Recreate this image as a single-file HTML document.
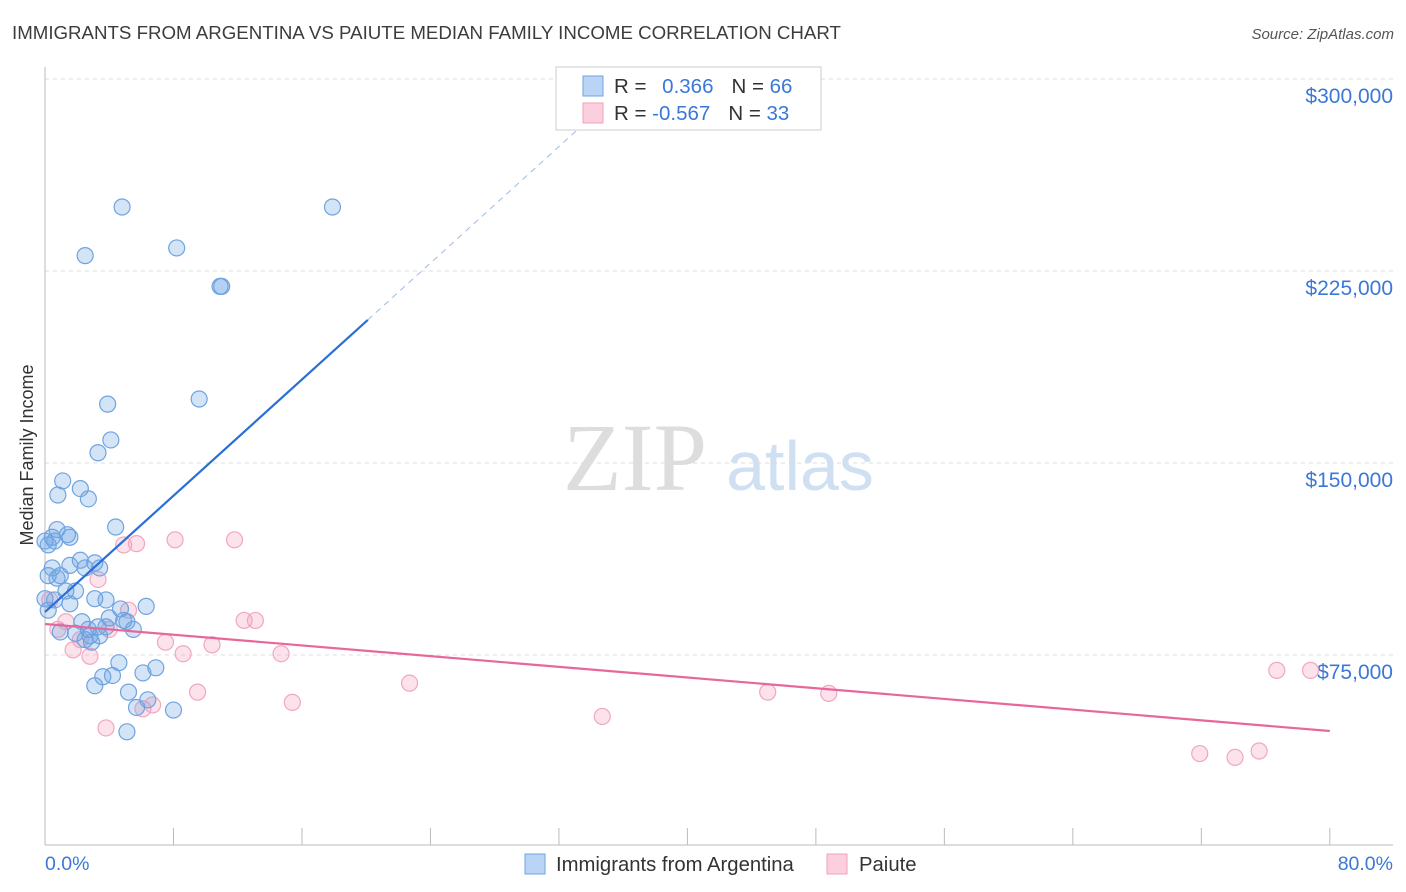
<!DOCTYPE html>
<html><head><meta charset="utf-8"><style>
body{margin:0;background:#fff;font-family:"Liberation Sans",sans-serif;}
svg{display:block}
</style></head><body>
<svg id="chart" width="1406" height="892">
<text x="12" y="39" font-size="18.7" fill="#3c3c3c">IMMIGRANTS FROM ARGENTINA VS PAIUTE MEDIAN FAMILY INCOME CORRELATION CHART</text>
<text x="1394" y="39" font-size="15" fill="#555" font-style="italic" text-anchor="end">Source: ZipAtlas.com</text>
<text transform="translate(33,455) rotate(-90)" font-size="18" fill="#333" text-anchor="middle">Median Family Income</text>
<g><text x="635" y="490" font-family="Liberation Serif" font-size="96" fill="#ddd" text-anchor="middle">ZIP</text><text x="800" y="490" font-size="70" fill="#cfe0f3" text-anchor="middle">atlas</text></g>
<g id="grid"></g><g id="axes"></g><g id="marks"></g>
<g>
<rect x="556" y="67" width="265" height="63" fill="#fff" stroke="#ccc"/>
<rect x="583" y="76" width="20" height="20" fill="#b9d4f5" stroke="#6fa3e0"/>
<rect x="583" y="103" width="20" height="20" fill="#fbcfdd" stroke="#f0a0bc"/>
<text x="614" y="93" font-size="20.5" fill="#333">R = <tspan fill="#3b78d8" dx="10">0.366</tspan><tspan dx="18" fill="#333">N = </tspan><tspan fill="#3b78d8">66</tspan></text>
<text x="614" y="120" font-size="20.5" fill="#333">R = <tspan fill="#3b78d8">-0.567</tspan><tspan dx="18" fill="#333">N = </tspan><tspan fill="#3b78d8">33</tspan></text>
</g>
<g>
<rect x="525" y="854" width="20" height="20" fill="#b9d4f5" stroke="#6fa3e0"/>
<text x="556" y="871" font-size="20.3" fill="#333">Immigrants from Argentina</text>
<rect x="827" y="854" width="20" height="20" fill="#fbcfdd" stroke="#f0a0bc"/>
<text x="859" y="871" font-size="20.3" fill="#333">Paiute</text>
</g>
</svg>
<script>
const blueX=[4.8,17.9,2.5,8.2,10.9,11.0,3.9,9.6,4.1,3.3,1.1,2.2,0.8,2.7,4.4,0.75,0.45,1.55,0,0.6,0.2,1.4,2.2,3.1,1.55,2.5,3.4,0.45,0.2,0.95,0.75,1.3,1.9,0,1.55,3.1,3.8,4.7,6.3,4.0,2.3,3.3,4.9,5.1,3.8,5.5,1.9,2.8,3.4,2.5,2.9,4.6,6.9,6.1,4.2,3.6,3.1,5.2,6.4,5.7,8.0,5.1,0.95,0.2,0.6,2.7];
const blueY=[250,250,231,234,219,219,173,175,159,154,143,140,137.5,136,125,124,121,121,119.5,119.5,118,122,112,111,110,109,109,109,106,106,105,100,100,97,95,97,96.5,93,94,89.5,88,86,88.5,88,86,85,83.5,82.5,82.5,81,80,72,70,68,67,66.5,63,60.5,57.5,54.5,53.5,45,84,92.5,96.5,85];
const pinkX=[0.3,0.8,1.3,1.75,2.2,2.8,3.3,3.8,4.0,4.9,5.2,5.7,6.1,6.7,7.5,8.1,8.6,9.5,10.4,11.8,12.4,13.1,14.7,15.4,22.7,34.7,45.0,48.8,71.9,74.1,75.6,76.7,78.8];
const pinkY=[96.5,85,88,77,81,74.5,104.5,46.5,85,118,92.5,118.5,54,55.5,80,120,75.5,60.5,79,120,88.5,88.5,75.5,56.5,64,51,60.5,60,36.5,35,37.5,69,69];
const yTicks=[75,150,225,300];
const yTickLabels=["$75,000","$150,000","$225,000","$300,000"];
const xTicks=[0,8,16,24,32,40,48,56,64,72,80];
const blueTrend=[[0,91.8],[20.1,205.9]];
const blueTrendDash=[[20.1,205.9],[33.3,281]];
const pinkTrend=[[0,87.1],[80,45.3]];
const NS='http://www.w3.org/2000/svg';
const sx=v=>45+v*16.06, sy=v=>847-v*2.56;
function mk(tag,attrs,parent){const e=document.createElementNS(NS,tag);for(const k in attrs)e.setAttribute(k,attrs[k]);document.getElementById(parent).appendChild(e);return e;}
yTicks.forEach((t,i)=>{
 const g=mk('line',{x1:45,x2:1393,y1:sy(t),y2:sy(t),stroke:'#ddd','stroke-dasharray':'4,4'},'grid');
 
 
 const l=mk('text',{x:1393,y:sy(t)+24,'font-size':21,fill:'#3b78d8','text-anchor':'end'},'grid');l.textContent=yTickLabels[i];
 
 
});
const ax=mk('line',{x1:45,x2:1393,y1:845,y2:845,stroke:'#bbb'},'axes');


const ay=mk('line',{x1:45,x2:45,y1:67,y2:845,stroke:'#bbb'},'axes');


xTicks.forEach(t=>{const tk=mk('line',{x1:sx(t),x2:sx(t),y1:828,y2:845,stroke:'#bbb'},'axes');
 
 });
const xl0=mk('text',{x:45,y:870,'font-size':19.5,fill:'#3b78d8'},'axes');xl0.textContent='0.0%';


const xl1=mk('text',{x:1393,y:870,'font-size':19.5,fill:'#3b78d8','text-anchor':'end'},'axes');xl1.textContent='80.0%';


pinkX.forEach((x,i)=>{const c=mk('circle',{cx:sx(x),cy:sy(pinkY[i]),r:8,fill:'rgba(245,160,190,0.3)',stroke:'#f2a6c0','stroke-width':1.2},'marks');
 
 });
blueX.forEach((x,i)=>{const c=mk('circle',{cx:sx(x),cy:sy(blueY[i]),r:8,fill:'rgba(110,165,230,0.3)',stroke:'#6fa3e0','stroke-width':1.2},'marks');
 
 });
const bt=mk('line',{x1:sx(blueTrend[0][0]),y1:sy(blueTrend[0][1]),x2:sx(blueTrend[1][0]),y2:sy(blueTrend[1][1]),stroke:'#2a6fd6','stroke-width':2.2},'marks');


const bd=mk('line',{x1:sx(blueTrendDash[0][0]),y1:sy(blueTrendDash[0][1]),x2:sx(blueTrendDash[1][0]),y2:sy(blueTrendDash[1][1]),stroke:'#9bbbe6','stroke-width':1,'stroke-dasharray':'6,5'},'marks');


const pt=mk('line',{x1:sx(pinkTrend[0][0]),y1:sy(pinkTrend[0][1]),x2:sx(pinkTrend[1][0]),y2:sy(pinkTrend[1][1]),stroke:'#e8679a','stroke-width':2.2},'marks');


</script>
</body></html>
